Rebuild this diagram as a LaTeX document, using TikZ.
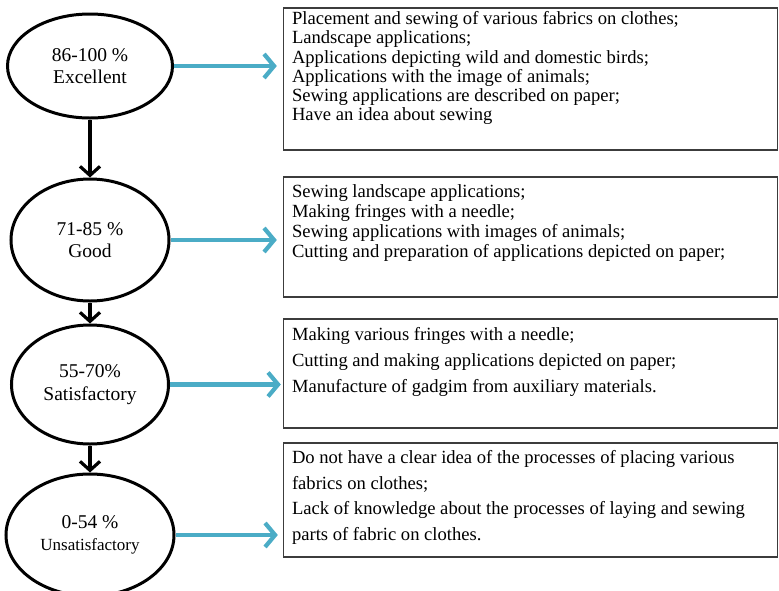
\documentclass[tikz,border=0pt]{standalone}
\usepackage{fontspec}
\setmainfont{Liberation Serif}
\usepackage{tikz}
\usetikzlibrary{shapes.geometric, arrows.meta, positioning}
\definecolor{linkblue}{RGB}{75,172,198}
\definecolor{boxgray}{RGB}{60,60,60}
\tikzset{
  grade/.style={ellipse, draw, line width=3pt, align=center, inner sep=0pt,
    font=\fontsize{19.5}{22.5}\selectfont},
  criteria/.style={rectangle, draw=boxgray, line width=1.4pt, minimum width=494pt},
  itemlist/.style={align=left, inner sep=0pt},
  down/.style={-{Straight Barb[length=9pt, width=20pt]}, line width=3.2pt},
  link/.style={-{Straight Barb[length=10pt, width=24pt]}, line width=4.2pt, color=linkblue}
}
\begin{document}
\begin{tikzpicture}[x=1pt, y=-1pt]
  \useasboundingbox (0,0) rectangle (779,590);
  % grades
  \node[grade, minimum width=165pt, minimum height=104pt] (excel) at (90,66) {86-100 \%\\Excellent};
  \node[grade, minimum width=158pt, minimum height=122pt, below=58pt of excel] (good) {71-85 \%\\Good};
  \node[grade, minimum width=157pt, minimum height=119pt, below=21pt of good] (satis) {55-70\%\\Satisfactory};
  \node[grade, minimum width=168pt, minimum height=122pt, below=27pt of satis] (unsat)
    {0-54 \%\\{\fontsize{17}{19}\selectfont Unsatisfactory}};
  % criteria boxes
  \node[criteria, minimum height=142pt] (crit1) at (530.5,79) {};
  \node[criteria, minimum height=120pt] (crit2) at (530.5,237) {};
  \node[criteria, minimum height=109pt] (crit3) at (530.5,373.5) {};
  \node[criteria, minimum height=114pt] (crit4) at (530.5,500) {};
  \node[itemlist, font=\fontsize{18.6}{19.2}\selectfont, below right=4pt and 9pt of crit1.north west] (list1)
    {Placement and sewing of various fabrics on clothes;\\
     Landscape applications;\\
     Applications depicting wild and domestic birds;\\
     Applications with the image of animals;\\
     Sewing applications are described on paper;\\
     Have an idea about sewing};
  \node[itemlist, font=\fontsize{18.6}{20}\selectfont, below right=8pt and 9pt of crit2.north west] (list2)
    {Sewing landscape applications;\\
     Making fringes with a needle;\\
     Sewing applications with images of animals;\\
     Cutting and preparation of applications depicted on paper;};
  \node[itemlist, font=\fontsize{18.6}{26}\selectfont, below right=9pt and 9pt of crit3.north west] (list3)
    {Making various fringes with a needle;\\
     Cutting and making applications depicted on paper;\\
     Manufacture of gadgim from auxiliary materials.};
  \node[itemlist, font=\fontsize{18.6}{25.5}\selectfont, below right=8pt and 9pt of crit4.north west] (list4)
    {Do not have a clear idea of the processes of placing various\\
     fabrics on clothes;\\
     Lack of knowledge about the processes of laying and sewing\\
     parts of fabric on clothes.};
  % arrows
  \draw[down] (excel) -- (good);
  \draw[down] (good) -- (satis);
  \draw[down] (satis) -- (unsat);
  \draw[link, shorten >=6pt] (excel.east) -- (excel.east -| crit1.west);
  \draw[link, shorten >=6pt] (good.east) -- (good.east -| crit2.west);
  \draw[link, shorten >=2pt] (satis.east) -- (satis.east -| crit3.west);
  \draw[link, shorten >=5pt] (unsat.east) -- (unsat.east -| crit4.west);
\end{tikzpicture}
\end{document}
